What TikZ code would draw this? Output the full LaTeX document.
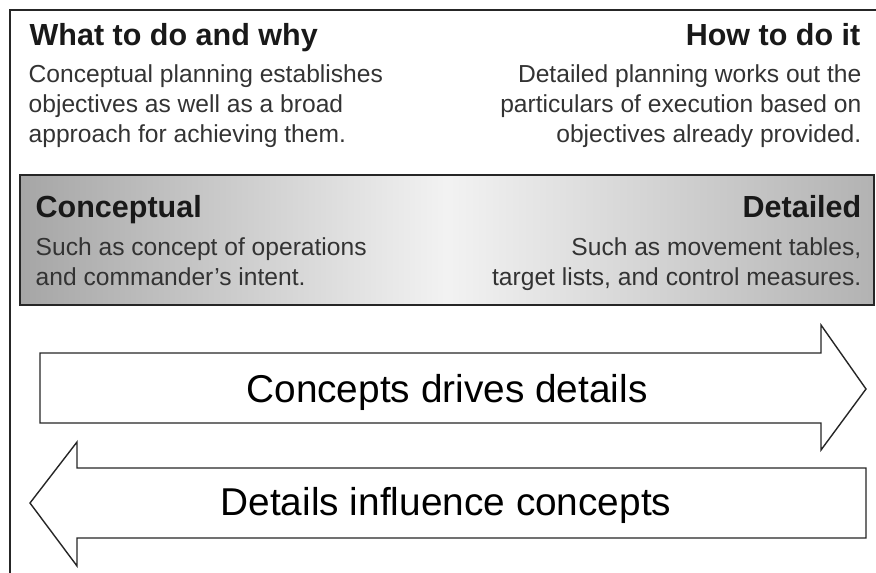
\documentclass[tikz,border=0pt]{standalone}
\usepackage{fontspec}
\setmainfont{Liberation Sans}
\usetikzlibrary{positioning}
\tikzset{every picture/.style={line width=1.4pt}}
\tikzstyle{head}=[font=\fontsize{30.5}{36}\selectfont\bfseries,inner sep=0pt,text=black!90]
\tikzstyle{body}=[font=\fontsize{24.6}{30}\selectfont,inner sep=0pt,text=black!80]
\tikzstyle{big}=[font=\fontsize{38.8}{46}\selectfont,inner sep=0pt,text=black]
\tikzstyle{plank}=[draw=black!85,fill=white,line join=miter]

\begin{document}
\begin{tikzpicture}[x=1pt,y=-1pt]
\useasboundingbox (0,0) rectangle (876,573);
% frame
\draw[black!85,line width=1.8pt] (10,573) -- (10,10) -- (876,10);
% what / how
\node[head,anchor=base west] (what) at (29,45) {What to do and why};
\node[head,anchor=base east] (how) at (861,45) {How to do it};
\node[body,anchor=base west,align=left] (whattxt) at (28,142)
  {Conceptual planning establishes\\objectives as well as a broad\\approach for achieving them.};
\node[body,anchor=base east,align=right] (howtxt) at (862,142)
  {Detailed planning works out the\\particulars of execution based on\\objectives already provided.};
% shaded band
\draw[black!85,left color=black!35,right color=black!30,middle color=black!5]
  (20,175) rectangle (874,305);
\node[head,anchor=base west] (conc) at (35,217) {Conceptual};
\node[head,anchor=base east] (det) at (862,217) {Detailed};
\node[body,anchor=base west,align=left] (conctxt) at (35,285)
  {Such as concept of operations\\and commander’s intent.};
\node[body,anchor=base east,align=right] (dettxt) at (862,285)
  {Such as movement tables,\\target lists, and control measures.};
% arrows
\draw[plank] (40,353) -- (821,353) -- (821,325) -- (866,389) -- (821,450)
  -- (821,423) -- (40,423) -- cycle;
\draw[plank] (866,468) -- (77,468) -- (77,442) -- (30,503) -- (77,566)
  -- (77,538) -- (866,538) -- cycle;
\node[big,anchor=base] (drives) at (447,402) {Concepts drives details};
\node[big,anchor=base] (influ) at (446,515) {Details influence concepts};
\end{tikzpicture}
\end{document}
